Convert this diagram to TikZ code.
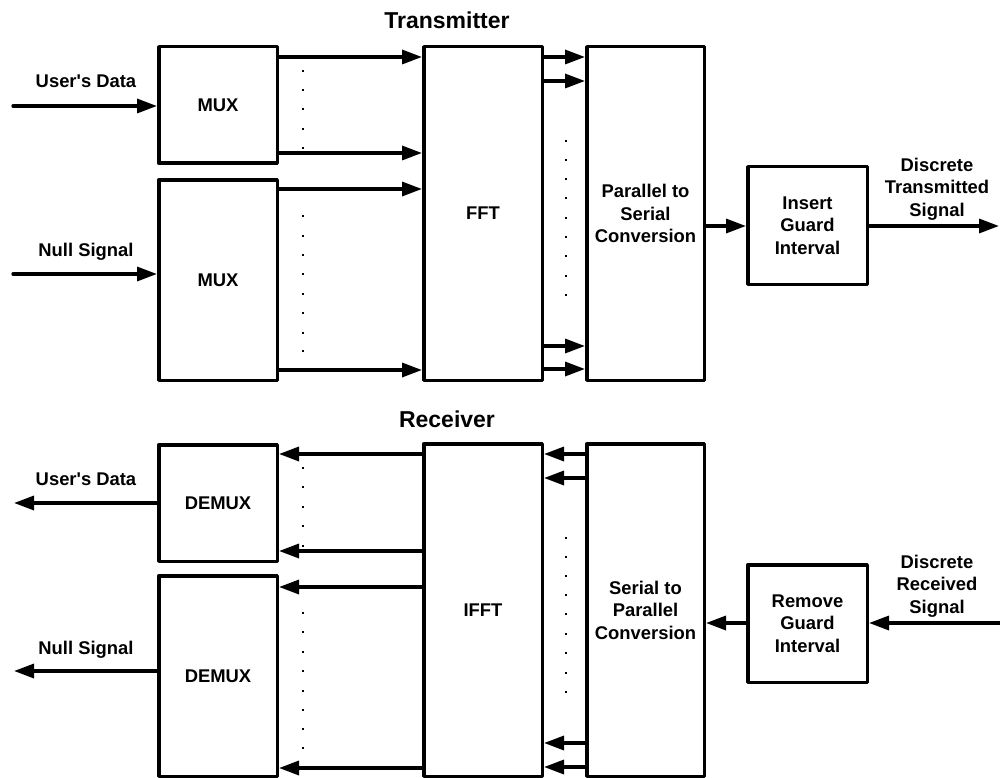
\documentclass[tikz,border=0pt]{standalone}
\usepackage{fontspec}
\setmainfont{Liberation Sans}
\usetikzlibrary{arrows.meta}
\newcommand{\lblfnt}{\fontsize{18.4}{22.5}\selectfont\bfseries}
\newcommand{\ttlfnt}{\fontsize{23}{27}\selectfont\bfseries}
\begin{document}
\begin{tikzpicture}[x=1pt,y=-1pt,
  blk/.style={draw,line width=3.5pt,line join=round,inner sep=0pt,minimum width=118.5pt,align=center,font=\lblfnt},
  lbl/.style={inner sep=0pt,align=center,font=\lblfnt},
  ttl/.style={inner sep=0pt,anchor=base,font=\ttlfnt},
  arr/.style={line width=3.3pt,-{Triangle[length=20pt,width=14pt]}},
  dotmark/.style={fill=black}]
\useasboundingbox (0,0) rectangle (1000,778);

% ---------------- Transmitter ----------------
\node[ttl] (ttx) at (447,29) {Transmitter};
\node[blk,minimum height=116.5pt] (mux1) at (218,105) {MUX};
\node[blk,minimum height=200.5pt] (mux2) at (218,280) {MUX};
\node[blk,minimum height=333.5pt] (fft) at (483,213.5) {FFT};
\node[blk,minimum width=117.5pt,minimum height=333.5pt] (ps) at (645.5,213.5) {Parallel to\\Serial\\Conversion};
\node[blk,minimum width=119.5pt,minimum height=117.5pt] (ig) at (807.5,225.5) {Insert\\Guard\\Interval};

\node[lbl,anchor=base] (ud1) at (86,88) {User\textquotesingle s Data};
\node[lbl,anchor=base] (ns1) at (86,256) {Null Signal};
\node[lbl] (dts) at (937,189) {Discrete\\Transmitted\\Signal};

\coordinate (in1) at (13,106);
\coordinate (in2) at (13,274);
\coordinate (out1) at (999,226);
\foreach \n/\y in {a/57,b/153,c/189,d/370,e/81,f/346,g/369,h/106,i/274,j/226}
  \coordinate (ty\n) at (0,\y);

\draw[arr,line cap=round] (in1) -- (mux1.west |- tyh);
\draw[arr,line cap=round] (in2) -- (mux2.west |- tyi);
\draw[arr] (mux1.east |- tya) -- (fft.west |- tya);
\draw[arr] (mux1.east |- tyb) -- (fft.west |- tyb);
\draw[arr] (mux2.east |- tyc) -- (fft.west |- tyc);
\draw[arr] (mux2.east |- tyd) -- (fft.west |- tyd);
\draw[arr] (fft.east |- tya) -- (ps.west |- tya);
\draw[arr] (fft.east |- tye) -- (ps.west |- tye);
\draw[arr] (fft.east |- tyf) -- (ps.west |- tyf);
\draw[arr] (fft.east |- tyg) -- (ps.west |- tyg);
\draw[arr] (ps.east |- tyj) -- (ig.west |- tyj);
\draw[arr] (ig.east |- tyj) -- (out1);

\foreach \y in {70,89,108,128,147} \fill[dotmark] (302,\y) rectangle ++(2.4,2.4);
\foreach \y in {215,235,254,273,293,312,332,350} \fill[dotmark] (302,\y) rectangle ++(2.4,2.4);
\foreach \y in {140,159,178,197,217,236,255,275,294} \fill[dotmark] (565,\y) rectangle ++(2.4,2.4);

% ---------------- Receiver ----------------
\node[ttl] (trx) at (447,427) {Receiver};
\node[blk,minimum height=116.5pt] (dmx1) at (218,503) {DEMUX};
\node[blk,minimum height=200.5pt] (dmx2) at (218,676) {DEMUX};
\node[blk,minimum height=332.5pt] (ifft) at (483,610) {IFFT};
\node[blk,minimum width=117.5pt,minimum height=332.5pt] (sp) at (645.5,610) {Serial to\\Parallel\\Conversion};
\node[blk,minimum width=119.5pt,minimum height=117.5pt] (rguard) at (807.5,623.5) {Remove\\Guard\\Interval};

\node[lbl,anchor=base] (ud2) at (86,485) {User\textquotesingle s Data};
\node[lbl,anchor=base] (ns2) at (86,654) {Null Signal};
\node[lbl] (drs) at (937,586) {Discrete\\Received\\Signal};

\coordinate (o1) at (14,503);
\coordinate (o2) at (14,671);
\coordinate (rin) at (1002,623);
\foreach \n/\y in {a/454,b/551,c/587,d/768,e/478,f/743,g/767,h/503,i/671,j/623}
  \coordinate (ry\n) at (0,\y);

\draw[arr] (dmx1.west |- ryh) -- (o1);
\draw[arr] (dmx2.west |- ryi) -- (o2);
\draw[arr] (ifft.west |- rya) -- (dmx1.east |- rya);
\draw[arr] (ifft.west |- ryb) -- (dmx1.east |- ryb);
\draw[arr] (ifft.west |- ryc) -- (dmx2.east |- ryc);
\draw[arr] (ifft.west |- ryd) -- (dmx2.east |- ryd);
\draw[arr] (sp.west |- rya) -- (ifft.east |- rya);
\draw[arr] (sp.west |- rye) -- (ifft.east |- rye);
\draw[arr] (sp.west |- ryf) -- (ifft.east |- ryf);
\draw[arr] (sp.west |- ryg) -- (ifft.east |- ryg);
\draw[arr] (rguard.west |- ryj) -- (sp.east |- ryj);
\draw[arr] (rin) -- (rguard.east |- ryj);

\foreach \y in {467,486,506,525,545} \fill[dotmark] (302,\y) rectangle ++(2.4,2.4);
\foreach \y in {612,631,651,670,690,709,728,747} \fill[dotmark] (302,\y) rectangle ++(2.4,2.4);
\foreach \y in {537,556,575,594,613,633,652,672,691} \fill[dotmark] (565,\y) rectangle ++(2.4,2.4);
\end{tikzpicture}
\end{document}
